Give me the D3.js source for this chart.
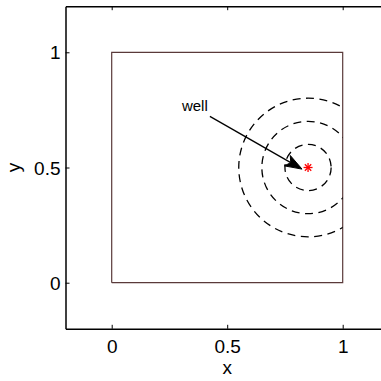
<!doctype html>
<html lang="en">
<head>
<meta charset="utf-8">
<title>well</title>
<style>
html, body, svg { margin: 0; padding: 0; border: 0; }
body { background: #fff; }
text { font-family: "Liberation Sans", Arial, sans-serif; }
</style>
</head>
<body>
<svg></svg>
<script src="https://d3js.org/d3.v7.min.js"></script>
<script>
var xTicks = [0, 0.5, 1];
var yTicks = [0, 0.5, 1];
var tickLabels = ["0", "0.5", "1"];
var squareX = [0, 1, 1, 0, 0];
var squareY = [0, 0, 1, 1, 0];
var well = [0.85, 0.5];
var radii = [0.1, 0.2, 0.3];
var arrowFrom = [0.425, 0.722];
var arrowTo = [0.824, 0.493];
var labelPos = [0.42, 0.74];

var w = 381, h = 381;
var x = d3.scaleLinear().domain([-0.2, 1.2]).range([65.5, 388.9]);
var y = d3.scaleLinear().domain([-0.2, 1.2]).range([328.8, 6.2]);

var svg = d3.select("svg").attr("width", w).attr("height", h);

svg.append("defs").append("clipPath").attr("id", "sq")
  .append("rect")
  .attr("x", x(0)).attr("y", y(1))
  .attr("width", x(1) - x(0)).attr("height", y(0) - y(1));

// square
svg.append("path")
  .datum(d3.zip(squareX, squareY))
  .attr("d", d3.line().x(function(d){ return x(d[0]); }).y(function(d){ return y(d[1]); }))
  .attr("fill", "none")
  .attr("stroke", "#5a3a3a")
  .attr("stroke-width", 1.2);

// dashed circles
svg.append("g").attr("clip-path", "url(#sq)")
  .selectAll("circle").data(radii).enter().append("circle")
  .attr("cx", x(well[0])).attr("cy", y(well[1]))
  .attr("r", function(d){ return x(d) - x(0); })
  .attr("fill", "none")
  .attr("stroke", "#000")
  .attr("stroke-width", 1.3)
  .attr("stroke-dasharray", "8,5.5");

// arrow
var x0 = x(arrowFrom[0]), y0 = y(arrowFrom[1]);
var x1 = x(arrowTo[0]), y1 = y(arrowTo[1]);
var ang = Math.atan2(y1 - y0, x1 - x0);
var len = 17, half = 6, notch = 4;
function pt(along, perp) {
  return [x1 - along * Math.cos(ang) - perp * Math.sin(ang),
          y1 - along * Math.sin(ang) + perp * Math.cos(ang)];
}
svg.append("line")
  .attr("x1", x0).attr("y1", y0)
  .attr("x2", pt(len - notch, 0)[0]).attr("y2", pt(len - notch, 0)[1])
  .attr("stroke", "#000").attr("stroke-width", 1.3);
svg.append("path")
  .attr("d", d3.line()([pt(0, 0), pt(len, half), pt(len - notch, 0), pt(len, -half)]) + "Z")
  .attr("fill", "#000").attr("stroke", "#000").attr("stroke-width", 1);

svg.append("text")
  .attr("x", x(labelPos[0]) - 1).attr("y", y(labelPos[1]) - 1)
  .attr("text-anchor", "end")
  .attr("font-size", 15)
  .text("well");

// well marker (asterisk)
var mx = x(well[0]), my = y(well[1]), ms = 4.5;
[0, 45, 90, 135].forEach(function(a) {
  var r = a * Math.PI / 180;
  svg.append("line")
    .attr("x1", mx - ms * Math.cos(r)).attr("y1", my - ms * Math.sin(r))
    .attr("x2", mx + ms * Math.cos(r)).attr("y2", my + ms * Math.sin(r))
    .attr("stroke", "#ff0000").attr("stroke-width", 1.3);
});

// axes box
var xAxis = d3.axisBottom(x).tickValues(xTicks).tickSizeInner(-4).tickSizeOuter(0)
  .tickFormat(function(d, i){ return tickLabels[i]; });
var yAxis = d3.axisLeft(y).tickValues(yTicks).tickSizeInner(-4).tickSizeOuter(0)
  .tickFormat(function(d, i){ return tickLabels[i]; });
var xTop = d3.axisTop(x).tickValues(xTicks).tickSizeInner(-4).tickSizeOuter(0).tickFormat("");
var yRight = d3.axisRight(y).tickValues(yTicks).tickSizeInner(-4).tickSizeOuter(0).tickFormat("");

var gx = svg.append("g").attr("transform", "translate(0," + y(-0.2) + ")").call(xAxis);
var gy = svg.append("g").attr("transform", "translate(" + x(-0.2) + ",0)").call(yAxis);
svg.append("g").attr("transform", "translate(0," + y(1.2) + ")").call(xTop);
svg.append("g").attr("transform", "translate(" + x(1.2) + ",0)").call(yRight);

svg.selectAll(".domain").attr("stroke", "#000").attr("stroke-width", 1.5);
svg.selectAll(".tick line").attr("stroke", "#000").attr("stroke-width", 1);
gx.selectAll(".tick text").attr("font-size", 19).attr("font-family", "Liberation Sans, Arial, sans-serif")
  .attr("fill", "#000").attr("dy", "0").attr("y", 24.5);
gy.selectAll(".tick text").attr("font-size", 19).attr("font-family", "Liberation Sans, Arial, sans-serif")
  .attr("fill", "#000").attr("x", -5).attr("dy", "0.35em");

svg.append("text")
  .attr("x", x(0.5)).attr("y", 374)
  .attr("text-anchor", "middle").attr("font-size", 19)
  .text("x");
svg.append("text")
  .attr("transform", "translate(20," + y(0.5) + ") rotate(-90)")
  .attr("text-anchor", "middle").attr("font-size", 19)
  .text("y");
</script>
</body>
</html>
